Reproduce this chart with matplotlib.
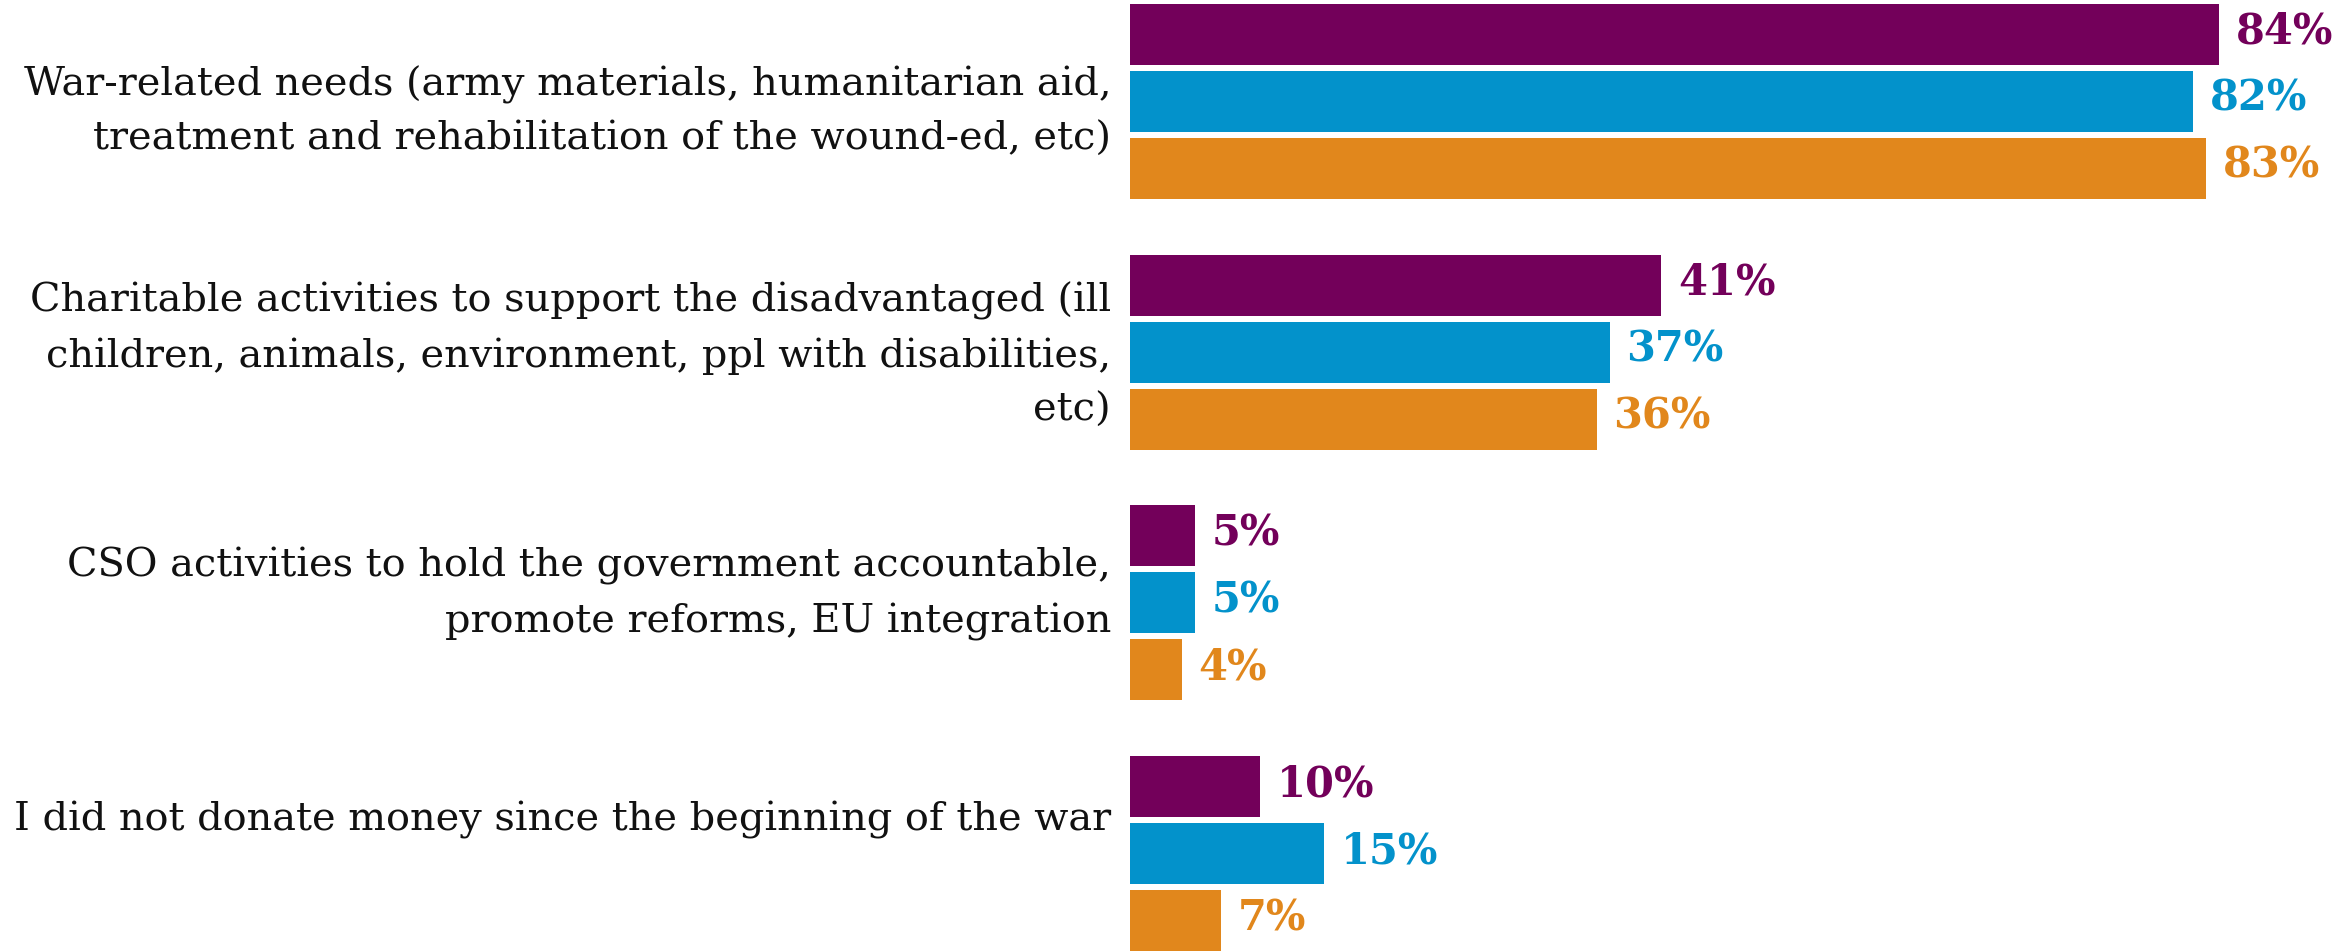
import matplotlib
matplotlib.use("Agg")
import matplotlib.pyplot as plt
import matplotlib.transforms as mtransforms
import numpy as np

categories = [
    "War-related needs (army materials, humanitarian aid,\ntreatment and rehabilitation of the wound-ed, etc)",
    "Charitable activities to support the disadvantaged (ill\nchildren, animals, environment, ppl with disabilities,\netc)",
    "CSO activities to hold the government accountable,\npromote reforms, EU integration",
    "I did not donate money since the beginning of the war",
]
series_a = [84, 41, 5, 10]
series_b = [82, 37, 5, 15]
series_c = [83, 36, 4, 7]
series = [series_a, series_b, series_c]
colors = ["#73005A", "#0392CB", "#E1871C"]

# layout: vertical nudge of each category label (in bar-group units)
label_dy = [0.04, 0.012, -0.036, -0.132]

fig = plt.figure(figsize=(23.38, 9.51), dpi=100)
ax = fig.add_axes([1130 / 2338, 0.0, 1 - 1130 / 2338, 1 - 4 / 951])

pitch = 0.267
height = 0.243
y = np.arange(len(categories))
for i, (vals, col) in enumerate(zip(series, colors)):
    pos = y + (i - 1) * pitch
    ax.barh(pos, vals, height=height, color=col, edgecolor="none")
    for p, v in zip(pos, vals):
        ax.text(v + 1.3, p - 0.01, f"{v}%", va="center", ha="left", color=col,
                fontsize=30, fontweight="bold", family="DejaVu Serif")

ax.set_ylim(3 + pitch + height / 2, -pitch - height / 2)
ax.set_xlim(0, 93.2)

trans = mtransforms.blended_transform_factory(ax.transAxes, ax.transData) + \
    mtransforms.ScaledTranslation(-19 / 100, 0, fig.dpi_scale_trans)
for yi, lab, dy in zip(y, categories, label_dy):
    ax.text(0, yi + dy, lab, transform=trans, ha="right", va="center",
            multialignment="right", fontsize=28.7, family="DejaVu Serif",
            linespacing=1.59, color="#111111")

ax.set_yticks([])
ax.set_xticks([])
for s in ax.spines.values():
    s.set_visible(False)

fig.savefig("out.png", dpi=100)
